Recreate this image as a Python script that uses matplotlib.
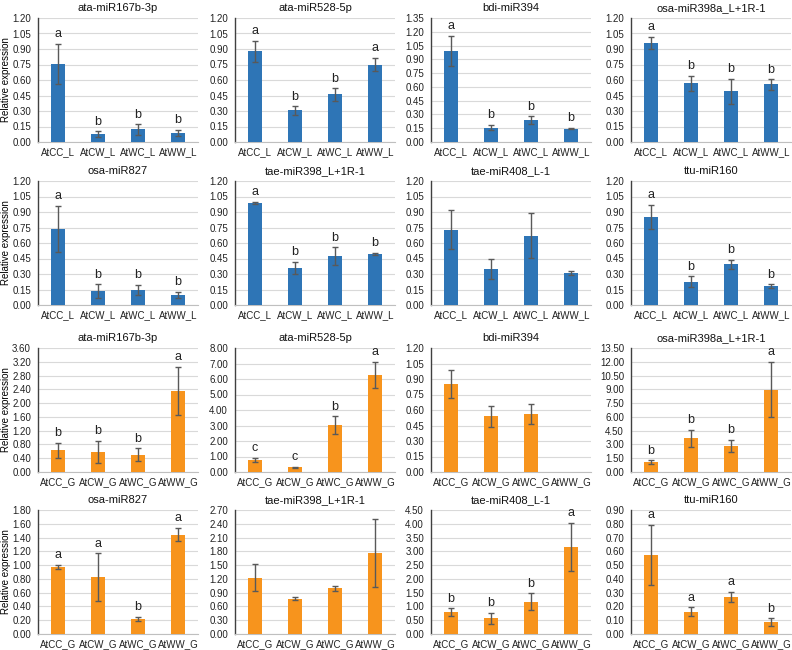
import matplotlib.pyplot as plt
import numpy as np

plt.rcParams['font.family'] = ['Liberation Sans', 'DejaVu Sans']

## Data
leaf_groups = ["AtCC_L", "AtCW_L", "AtWC_L", "AtWW_L"]
grain_groups = ["AtCC_G", "AtCW_G", "AtWC_G", "AtWW_G"]

titles = ["ata-miR167b-3p", "ata-miR528-5p", "bdi-miR394", "osa-miR398a_L+1R-1",
          "osa-miR827", "tae-miR398_L+1R-1", "tae-miR408_L-1", "ttu-miR160"]

# leaf (blue panels)
leaf_mean = [
    [0.756, 0.074, 0.122, 0.090],
    [0.878, 0.306, 0.460, 0.750],
    [0.995, 0.156, 0.235, 0.145],
    [0.956, 0.569, 0.492, 0.557],
    [0.736, 0.136, 0.146, 0.094],
    [0.989, 0.357, 0.474, 0.496],
    [0.728, 0.349, 0.669, 0.310],
    [0.851, 0.226, 0.395, 0.181],
]
leaf_err = [
    [0.195, 0.028, 0.050, 0.030],
    [0.100, 0.040, 0.060, 0.065],
    [0.163, 0.030, 0.043, 0.008],
    [0.060, 0.072, 0.120, 0.049],
    [0.220, 0.065, 0.050, 0.030],
    [0.008, 0.058, 0.085, 0.010],
    [0.190, 0.095, 0.218, 0.015],
    [0.115, 0.050, 0.045, 0.020],
]
leaf_letters = [
    ["a", "b", "b", "b"],
    ["a", "b", "b", "a"],
    ["a", "b", "b", "b"],
    ["a", "b", "b", "b"],
    ["a", "b", "b", "b"],
    ["a", "b", "b", "b"],
    ["", "", "", ""],
    ["a", "b", "b", "b"],
]
leaf_ymax = [1.20, 1.20, 1.35, 1.20, 1.20, 1.20, 1.20, 1.20]
leaf_step = [0.15] * 8

# grain (orange panels); bdi-miR394 AtWW_G has no value
grain_mean = [
    [0.629, 0.581, 0.503, 2.352],
    [0.753, 0.300, 3.010, 6.280],
    [0.853, 0.538, 0.561, np.nan],
    [1.095, 3.686, 2.850, 8.980],
    [0.972, 0.822, 0.218, 1.442],
    [1.226, 0.769, 0.994, 1.763],
    [0.786, 0.569, 1.173, 3.157],
    [0.576, 0.162, 0.269, 0.085],
]
grain_err = [
    [0.220, 0.320, 0.180, 0.690],
    [0.140, 0.040, 0.580, 0.840],
    [0.138, 0.098, 0.097, np.nan],
    [0.180, 0.930, 0.620, 2.990],
    [0.034, 0.350, 0.030, 0.095],
    [0.290, 0.030, 0.050, 0.750],
    [0.140, 0.210, 0.300, 0.870],
    [0.218, 0.032, 0.039, 0.028],
]
grain_letters = [
    ["b", "b", "b", "a"],
    ["c", "c", "b", "a"],
    ["", "", "", ""],
    ["b", "b", "b", "a"],
    ["a", "a", "b", "a"],
    ["", "", "", ""],
    ["b", "b", "b", "a"],
    ["a", "a", "a", "b"],
]
grain_ymax = [3.60, 8.00, 1.20, 13.50, 1.80, 2.70, 4.50, 0.90]
grain_step = [0.40, 1.00, 0.15, 1.50, 0.20, 0.30, 0.50, 0.10]

## Layout
W, H = 792, 650
lefts = [38, 235, 431, 631]
ax_w = 160
bottoms = [142, 305, 472, 634]
ax_h = 124

blue = "#2E75B6"
orange = "#F7941D"

fig = plt.figure(figsize=(W / 100, H / 100), dpi=100)


def draw_panel(ax, groups, mean, err, letters, ymax, step, color, title, ylabel):
    x = np.arange(len(groups))
    ax.bar(x, mean, width=0.37, color=color, zorder=3)
    ax.errorbar(x, mean, yerr=err, fmt="none", ecolor="#595959",
                elinewidth=1.0, capsize=2, capthick=1.0, zorder=4)
    for i in range(len(groups)):
        if letters[i]:
            ax.text(x[i], mean[i] + err[i] + ymax * 0.03, letters[i],
                    ha="center", va="bottom", fontsize=9, color="#222222")
    ax.set_xlim(-0.5, len(groups) - 0.5)
    ax.set_ylim(0, ymax)
    ticks = np.arange(0, ymax + step / 2, step)
    ax.set_yticks(ticks)
    ax.set_yticklabels(["%.2f" % t for t in ticks], fontsize=7)
    ax.set_xticks(x)
    ax.set_xticklabels(groups, fontsize=7)
    ax.tick_params(axis="y", length=0, pad=5, colors="#222222")
    ax.tick_params(axis="x", length=0, pad=4, colors="#222222")
    ax.yaxis.grid(True, color="#D9D9D9", linewidth=0.8, zorder=0)
    ax.set_axisbelow(True)
    for s in ["top", "right"]:
        ax.spines[s].set_visible(False)
    ax.spines["left"].set_color("#404040")
    ax.spines["left"].set_linewidth(1.0)
    ax.spines["bottom"].set_color("#BFBFBF")
    ax.spines["bottom"].set_linewidth(0.8)
    ax.set_title(title, fontsize=8, pad=5, color="#111111")
    if ylabel:
        ax.set_ylabel("Relative expression", fontsize=7)
        ax.yaxis.set_label_coords(-0.17, 0.5)


for k in range(16):
    row = k // 4
    col = k % 4
    rect = [lefts[col] / W, 1 - bottoms[row] / H, ax_w / W, ax_h / H]
    ax = fig.add_axes(rect)
    i = (row % 2) * 4 + col
    if row < 2:
        draw_panel(ax, leaf_groups, leaf_mean[i], leaf_err[i], leaf_letters[i],
                   leaf_ymax[i], leaf_step[i], blue, titles[i], col == 0)
    else:
        draw_panel(ax, grain_groups, grain_mean[i], grain_err[i], grain_letters[i],
                   grain_ymax[i], grain_step[i], orange, titles[i], col == 0)

fig.savefig("out.png", dpi=100)
